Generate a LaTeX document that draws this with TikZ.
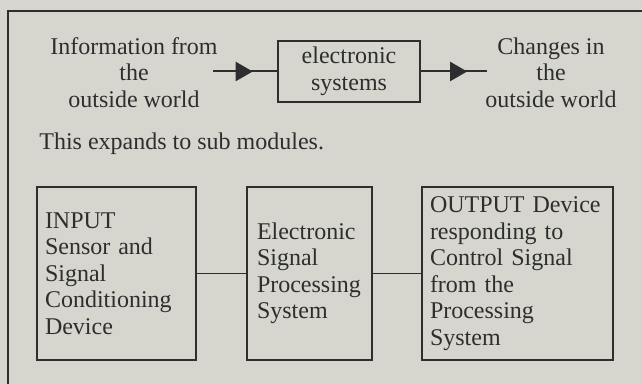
\documentclass[tikz,border=0pt]{standalone}
\usepackage{fontspec}
\setmainfont{Liberation Serif}
\usetikzlibrary{arrows.meta,decorations.markings}
\definecolor{paper}{RGB}{214,214,207}
\definecolor{ink}{RGB}{46,46,46}

\begin{document}
\begin{tikzpicture}[
        x=0.5pt, y=-0.5pt,
        every node/.style={text=ink, font=\fontsize{12}{13.25}\selectfont},
        module/.style={draw=ink, line width=0.9pt, align=left, inner xsep=4pt, minimum height=86.5pt},
        link/.style={draw=ink, line width=0.8pt},
        flow/.style={draw=ink, line width=1pt, postaction={decorate, decoration={markings, mark=at position #1 with {\arrow{Triangle[length=8.5pt,width=9.5pt]}}}}}
    ]
    % paper and frame
    \fill[paper] (0,0) rectangle (642,384);
    \useasboundingbox (0,0) rectangle (642,384);
    \draw[ink, line width=1.1pt] (8,384) -- (8,11) -- (642,11);

    % top row
    \node[align=center] (from) at (134,72.5) {Information from\\the\\outside world};
    \node[draw=ink, line width=0.9pt, align=center, minimum width=71pt, minimum height=30.5pt] (sys) at (349,71.5) {electronic\\systems};
    \node[align=center] (to) at (551,72.5) {Changes in\\the\\outside world};
    \coordinate (src) at (213,71.5);
    \coordinate (dst) at (487,71.5);

    \draw[flow=0.62] (src) -- (sys);
    \draw[flow=0.70] (sys) -- (dst);

    \node[anchor=base west, inner sep=0pt] (intro) at (39,149.5) {This expands to sub modules.};

    % sub modules
    \node[module, text width=71.5pt] (inp) at (116.5,273.5) {INPUT\\Sensor and\\Signal\\Conditioning\\Device};
    \node[module, text width=52.5pt, inner xsep=5pt] (proc) at (309.5,273.5) {Electronic\\Signal\\Processing\\System};
    \node[module, text width=87.5pt] (outp) at (517.5,273.5) {OUTPUT Device\\responding to\\Control Signal\\from the\\Processing\\System};

    \draw[link] (inp) -- (proc);
    \draw[link] (proc) -- (outp);
\end{tikzpicture}
\end{document}
